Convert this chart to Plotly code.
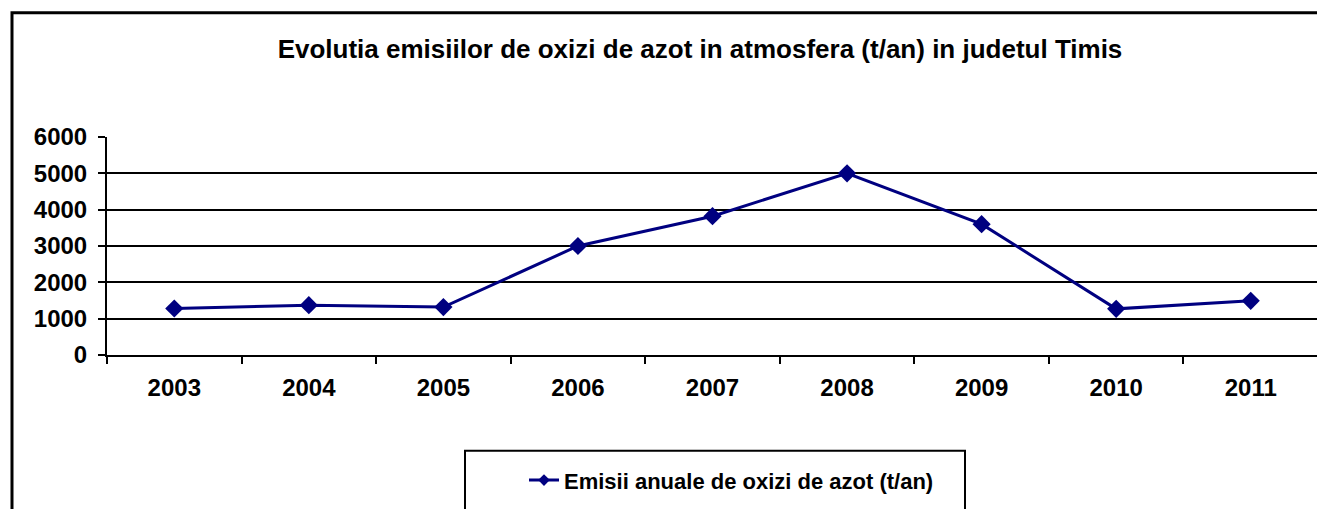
import plotly.graph_objects as go

years = ["2003", "2004", "2005", "2006", "2007", "2008", "2009", "2010", "2011"]
emissions = [1280, 1370, 1320, 3000, 3820, 5000, 3600, 1270, 1490]
y_ticks = [0, 1000, 2000, 3000, 4000, 5000, 6000]

title_text = "Evolutia emisiilor de oxizi de azot in atmosfera (t/an) in judetul Timis"
series_name = "Emisii anuale de oxizi de azot (t/an)"

OFF = 8  # browser body margin
W, H = 1325 - OFF, 509 - OFF
# plot area in page pixels
PX0, PX1, PY0, PY1 = 107, 1318, 137, 358
L = PX0 - OFF
R = W - (PX1 - OFF)
T = PY0 - OFF
B = H - (PY1 - OFF)
pw = PX1 - PX0
ph = PY1 - PY0


def px(x):
    return (x - PX0) / pw


def py(y):
    return (PY1 - y) / ph


font_family = "Liberation Sans, Arial, sans-serif"
navy = "#000080"

fig = go.Figure()
fig.add_trace(go.Scatter(
    x=years, y=emissions, mode="lines+markers", name=series_name, showlegend=False,
    line=dict(color=navy, width=3),
    marker=dict(symbol="diamond", size=14, color=navy),
))
# legend entry (same series, smaller legend symbol)
fig.add_trace(go.Scatter(
    x=[None], y=[None], mode="lines+markers", name="<b>" + series_name + "</b>", showlegend=True,
    line=dict(color=navy, width=3),
    marker=dict(symbol="diamond", size=9, color=navy),
))

fig.update_layout(
    width=W, height=H,
    margin=dict(l=L, r=R, t=T, b=B, pad=0),
    paper_bgcolor="white", plot_bgcolor="white",
    font=dict(family=font_family, color="black"),
    title=dict(text="<b>" + title_text + "</b>", x=(700 - OFF) / W, xref="container", xanchor="center",
               y=1 - (49 - OFF) / H, yref="container", yanchor="middle",
               font=dict(size=26, family=font_family, color="black")),
    showlegend=True,
    legend=dict(x=px(524), y=py(485), xanchor="left", yanchor="middle",
                bgcolor="rgba(0,0,0,0)", borderwidth=0,
                font=dict(size=22, family=font_family, color="black")),
    xaxis=dict(type="category", range=[-0.5, 8.5], showgrid=False,
               showline=True, linecolor="black", linewidth=2,
               ticks="outside", tickson="boundaries", ticklen=7, tickwidth=2, tickcolor="black",
               ticklabelstandoff=10,
               tickfont=dict(size=24, family=font_family, color="black"),
               tickprefix="<b>", ticksuffix="</b>", fixedrange=True),
    yaxis=dict(range=[0, 6000], tickvals=y_ticks, ticktext=["<b>%d</b>" % v for v in y_ticks],
               showgrid=True, gridcolor="black", gridwidth=2,
               showline=True, linecolor="black", linewidth=2, zeroline=False,
               ticks="outside", ticklen=7, tickwidth=2, tickcolor="black",
               ticklabelstandoff=6,
               tickfont=dict(size=24, family=font_family, color="black"), fixedrange=True),
    shapes=[
        dict(type="path", xref="paper", yref="paper",
             path="M %f,%f L %f,%f L %f,%f" % (px(12), py(520), px(12), py(11), px(1340), py(11)),
             line=dict(color="black", width=3)),
        dict(type="rect", xref="paper", yref="paper",
             x0=px(465), x1=px(965), y0=py(520), y1=py(455),
             line=dict(color="black", width=2)),
    ],
)

fig.write_html("out.html")
